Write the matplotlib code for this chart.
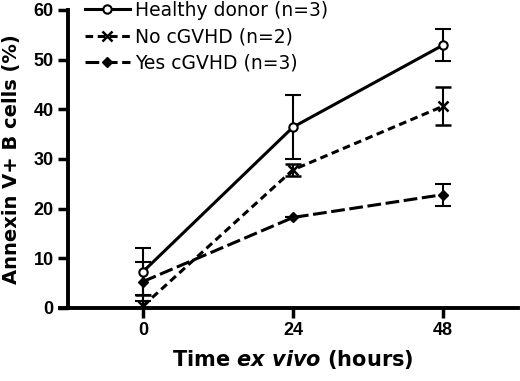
import matplotlib.pyplot as plt

hours = [0, 24, 48]

healthy = [7.3, 36.4, 52.9]
healthy_err = [4.7, 6.5, 3.2]

no_cgvhd = [0.4, 27.8, 40.6]
no_cgvhd_err = [2.2, 1.2, 3.8]

yes_cgvhd = [5.3, 18.2, 22.8]
yes_cgvhd_err = [4.0, 0.0, 2.2]

labels = ['Healthy donor (n=3)', 'No cGVHD (n=2)', 'Yes cGVHD (n=3)']

plt.rcParams['font.family'] = ['Liberation Sans', 'DejaVu Sans']
plt.rcParams['mathtext.fontset'] = 'custom'
plt.rcParams['mathtext.it'] = 'DejaVu Sans:bold:italic'

fig = plt.figure(figsize=(5.2, 3.81), dpi=100)
ax = fig.add_axes([0.131, 0.192, 0.865, 0.782])

common = dict(color='black', lw=2.2, capsize=6, elinewidth=1.5, capthick=1.5)
h1 = ax.errorbar(hours, healthy, yerr=healthy_err, linestyle='-', marker='o',
                 markersize=6, markerfacecolor='white', markeredgewidth=1.5,
                 **common)
h2 = ax.errorbar(hours, no_cgvhd, yerr=no_cgvhd_err, linestyle=(0, (2.5, 1.5)),
                 marker='x', markersize=7, markeredgewidth=1.8, **common)
h3 = ax.errorbar(hours, yes_cgvhd, yerr=yes_cgvhd_err, linestyle=(0, (4.5, 1.5)),
                 marker='D', markersize=5, **common)

ax.set_xlim(-12, 60)
ax.set_ylim(0, 60)
ax.set_xticks(hours)
ax.set_yticks(range(0, 61, 10))

for side in ['top', 'right']:
    ax.spines[side].set_visible(False)
for side in ['left', 'bottom']:
    ax.spines[side].set_linewidth(2.8)
ax.spines['bottom'].set_bounds(-13.3, 60)

ax.tick_params(axis='both', width=2.5, length=7, labelsize=13, direction='out')
for lbl in ax.get_xticklabels() + ax.get_yticklabels():
    lbl.set_fontweight('bold')

ax.set_ylabel('Annexin V+ B cells (%)', fontsize=14, fontweight='bold',
              family='DejaVu Sans')
ax.yaxis.set_label_coords(-0.104, 0.5)
ax.set_xlabel(r'Time $\it{ex\ vivo}$ (hours)', fontsize=15,
              fontweight='bold', family='DejaVu Sans', labelpad=6)

ax.legend([h1[0], h2[0], h3[0]], labels, loc='upper left',
          bbox_to_anchor=(0.02, 1.055), frameon=False,
          prop={'family': 'DejaVu Sans', 'size': 13.5},
          handlelength=2.4, handletextpad=0.3, labelspacing=0.38,
          borderaxespad=0)

fig.savefig('out.png', dpi=100)
